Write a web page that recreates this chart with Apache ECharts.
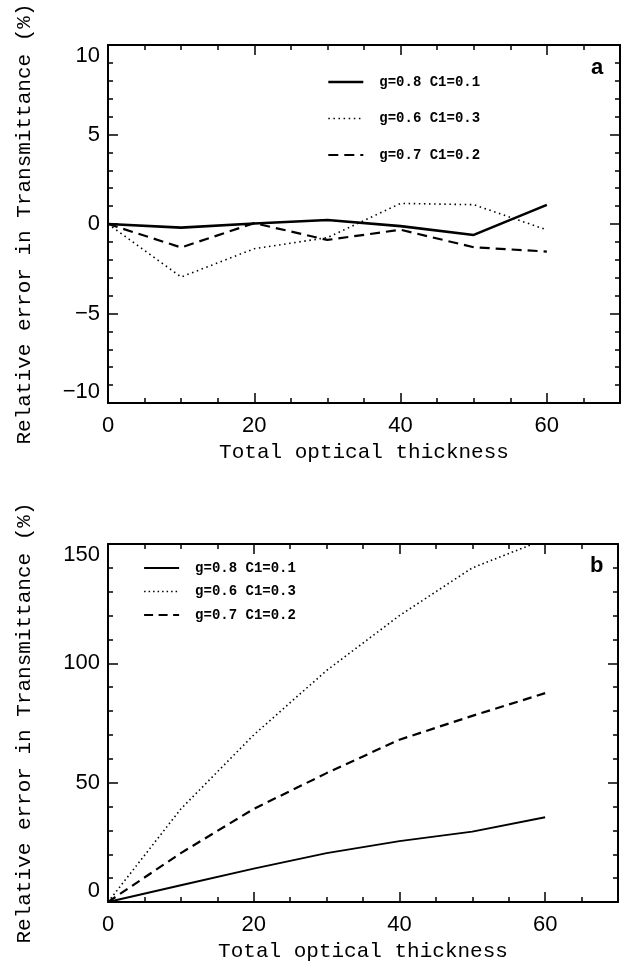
<!DOCTYPE html>
<html>
<head>
<meta charset="utf-8">
<script src="https://cdn.jsdelivr.net/npm/echarts@6/dist/echarts.min.js"></script>
<style>
html,body{margin:0;padding:0;background:#fff;}
#chart{width:633px;height:969px;}
</style>
</head>
<body>
<div id="chart"></div>
<script>
// ---- data ----
const thickness = [0, 10, 20, 30, 40, 50, 60];
const seriesNames = ['g=0.8 C1=0.1', 'g=0.6 C1=0.3', 'g=0.7 C1=0.2'];
// panel a (relative error, %)
const aG08 = [0, -0.2, 0.03, 0.22, -0.12, -0.61, 1.07];
const aG06 = [0, -2.96, -1.38, -0.76, 1.15, 1.08, -0.33];
const aG07 = [0, -1.31, 0.05, -0.89, -0.32, -1.3, -1.54];
// panel b (relative error, %)
const bG08 = [0, 7, 14, 20.5, 25.5, 29.5, 35.5];
const bG06 = [0, 39, 70, 97, 120, 140, 152];
const bG07 = [0, 20.5, 39, 54, 68, 78, 87.5];
// tick labels
const xTickLabels = [0, 20, 40, 60];
const aYTicks = [-10, -5, 0, 5, 10];
const bYTicks = [0, 50, 100, 150];
const xTitle = 'Total optical thickness';
const yTitle = 'Relative error in Transmittance (%)';

// ---- helpers ----
const BLACK = '#000';
const tickFont = {fontFamily: 'Liberation Sans', fontSize: 22, color: BLACK};
const titleFont = {fontFamily: 'Liberation Mono', fontSize: 21, color: BLACK};
const lineW = 2;
const minus = v => (v < 0 ? '\u2212' + Math.abs(v) : String(v));
const zip = ys => thickness.map((x, i) => [x, ys[i]]);

function xAxes(g) {
  const base = {gridIndex: g, type: 'value', min: 0, max: 70, interval: 5,
    splitLine: {show: false}};
  return [
    Object.assign({}, base, {position: 'bottom',
      axisLine: {show: true, onZero: false, lineStyle: {color: BLACK, width: lineW}},
      axisTick: {show: true, inside: true, length: 5, lineStyle: {color: BLACK, width: 1.5}},
      axisLabel: Object.assign({customValues: xTickLabels, margin: 12, formatter: minus}, tickFont),
      name: xTitle, nameLocation: 'middle', nameGap: 39, nameTextStyle: titleFont}),
    Object.assign({}, base, {position: 'bottom',
      axisLine: {show: false, onZero: false},
      axisTick: {show: true, inside: true, length: 10, customValues: xTickLabels, lineStyle: {color: BLACK, width: 1.5}},
      axisLabel: {show: false}}),
    Object.assign({}, base, {position: 'top',
      axisLine: {show: true, onZero: false, lineStyle: {color: BLACK, width: lineW}},
      axisTick: {show: true, inside: true, length: 5, lineStyle: {color: BLACK, width: 1.5}},
      axisLabel: {show: false}}),
    Object.assign({}, base, {position: 'top',
      axisLine: {show: false, onZero: false},
      axisTick: {show: true, inside: true, length: 10, customValues: xTickLabels, lineStyle: {color: BLACK, width: 1.5}},
      axisLabel: {show: false}})
  ];
}

function yAxes(g, min, max, interval, ticks) {
  const base = {gridIndex: g, type: 'value', min: min, max: max, interval: interval,
    splitLine: {show: false},
    axisLine: {show: true, onZero: false, lineStyle: {color: BLACK, width: lineW}},
    axisTick: {show: true, inside: true, length: 10, lineStyle: {color: BLACK, width: 1.5}},
    minorTick: {show: true, splitNumber: 5, length: 5, lineStyle: {color: BLACK, width: 1.5}},
    minorSplitLine: {show: false}};
  return [
    Object.assign({}, base, {position: 'left',
      axisLabel: Object.assign({customValues: ticks, margin: 8, formatter: minus,
        verticalAlignMinLabel: 'bottom', verticalAlignMaxLabel: 'top'}, tickFont),
      name: yTitle, nameLocation: 'middle', nameGap: 73, nameRotate: 90, nameTextStyle: titleFont}),
    Object.assign({}, base, {position: 'right', axisLabel: {show: false}})
  ];
}

function mkSeries(name, data, xi, yi, style) {
  return {name: name, type: 'line', data: zip(data), xAxisIndex: xi, yAxisIndex: yi,
    symbol: 'none', showSymbol: false, clip: true, silent: true, animation: false,
    color: BLACK, itemStyle: {color: BLACK},
    lineStyle: Object.assign({color: BLACK}, style)};
}

const aSolid = {width: 2.6, type: 'solid', color: BLACK};
const aDot = {width: 1.6, type: [1.5, 3.6], cap: 'butt', color: BLACK};
const aDash = {width: 2.2, type: [10, 6], cap: 'butt', color: BLACK};
const bSolid = {width: 1.9, type: 'solid', color: BLACK};
const bDot = {width: 1.6, type: [1.5, 3], cap: 'butt', color: BLACK};
const bDash = {width: 2.2, type: [9, 5.5], cap: 'butt', color: BLACK};

const legendText = {fontFamily: 'Liberation Mono', fontWeight: 'bold', fontSize: 14, color: BLACK,
  lineHeight: 14, padding: [0, 0, 0, 11]};
const hiddenSymbol = {color: 'rgba(0,0,0,0)', borderColor: 'rgba(0,0,0,0)', borderWidth: 0, opacity: 0};

const option = {
  backgroundColor: '#fff',
  animation: false,
  title: [
    {text: 'a', left: 591, top: 57, textStyle: {fontFamily: 'Liberation Sans', fontWeight: 'bold', fontSize: 22, color: BLACK}, padding: 0},
    {text: 'b', left: 590, top: 555, textStyle: {fontFamily: 'Liberation Sans', fontWeight: 'bold', fontSize: 22, color: BLACK}, padding: 0}
  ],
  grid: [
    {left: 108, top: 45, width: 512, height: 358},
    {left: 108, top: 544, width: 510, height: 358}
  ],
  xAxis: xAxes(0).concat(xAxes(1)),
  yAxis: yAxes(0, -10, 10, 5, aYTicks).concat(yAxes(1, 0, 150, 50, bYTicks)),
  legend: [
    {left: 327, top: 75, orient: 'vertical', itemWidth: 35, itemHeight: 14, itemGap: 22.5, padding: 0,
      selectedMode: false, textStyle: legendText, itemStyle: hiddenSymbol,
      data: [
        {name: seriesNames[0], lineStyle: aSolid, itemStyle: hiddenSymbol},
        {name: seriesNames[1], lineStyle: aDot, itemStyle: hiddenSymbol},
        {name: seriesNames[2], lineStyle: aDash, itemStyle: hiddenSymbol}
      ]},
    {left: 143, top: 561, orient: 'vertical', itemWidth: 35, itemHeight: 14, itemGap: 9.5, padding: 0,
      selectedMode: false, textStyle: legendText, itemStyle: hiddenSymbol,
      data: [
        {name: seriesNames[0], lineStyle: bSolid, itemStyle: hiddenSymbol},
        {name: seriesNames[1], lineStyle: bDot, itemStyle: hiddenSymbol},
        {name: seriesNames[2], lineStyle: bDash, itemStyle: hiddenSymbol}
      ]}
  ],
  series: [
    mkSeries(seriesNames[0], aG08, 0, 0, aSolid),
    mkSeries(seriesNames[1], aG06, 0, 0, aDot),
    mkSeries(seriesNames[2], aG07, 0, 0, aDash),
    mkSeries(seriesNames[0], bG08, 4, 2, bSolid),
    mkSeries(seriesNames[1], bG06, 4, 2, bDot),
    mkSeries(seriesNames[2], bG07, 4, 2, bDash)
  ]
};

const chart = echarts.init(document.getElementById('chart'), null, {renderer: 'canvas'});
chart.setOption(option);
</script>
</body>
</html>
